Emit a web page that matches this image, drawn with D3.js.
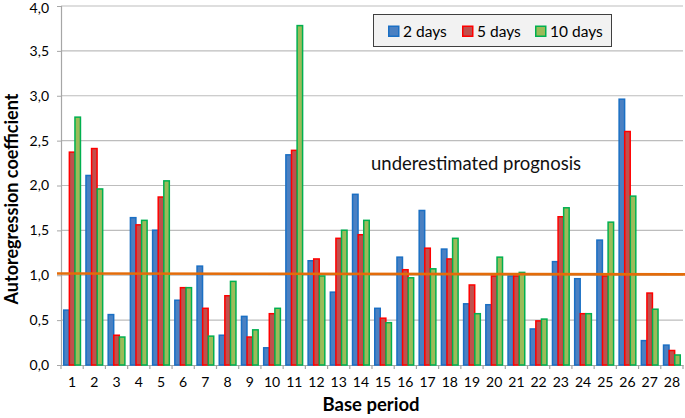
<!DOCTYPE html>
<html>
<head>
<meta charset="utf-8">
<script src="https://cdn.jsdelivr.net/npm/d3@7"></script>
<style>
html,body{margin:0;padding:0;background:#fff;}
svg{display:block;font-family:Lato,"Open Sans",sans-serif;}
</style>
</head>
<body>
<svg id="chart" width="685" height="418"></svg>
<script>
const categories = ["1","2","3","4","5","6","7","8","9","10","11","12","13","14","15","16","17","18","19","20","21","22","23","24","25","26","27","28"];
const seriesNames = ["2 days","5 days","10 days"];
const twoDays  = [0.62,2.12,0.57,1.65,1.51,0.73,1.11,0.34,0.55,0.20,2.35,1.17,0.82,1.91,0.64,1.21,1.73,1.30,0.69,0.68,1.00,0.41,1.16,0.97,1.40,2.97,0.28,0.23];
const fiveDays = [2.38,2.42,0.34,1.57,1.88,0.87,0.64,0.78,0.32,0.58,2.40,1.19,1.42,1.46,0.53,1.07,1.31,1.19,0.90,1.00,1.00,0.50,1.66,0.58,1.00,2.61,0.81,0.17];
const tenDays  = [2.77,1.97,0.32,1.62,2.06,0.87,0.33,0.94,0.40,0.64,3.79,1.00,1.51,1.62,0.48,0.98,1.08,1.42,0.58,1.21,1.04,0.52,1.76,0.58,1.60,1.89,0.63,0.12];
const yTicks = [0,0.5,1,1.5,2,2.5,3,3.5,4];
const refLine = [1.02, 1.01];
const annotation = "underestimated prognosis";
const yTitle = "Autoregression coefficient";
const xTitle = "Base period";

const strokeColors = ["#1a6fc4","#ff0000","#00b050"];
const fillColors = ["#4a80c2","#c0504d","#9bbb59"];

const svg = d3.select("#chart");
const mLeft = 61, mRight = 683, mTop = 6, mBottom = 365;

const x = d3.scaleBand().domain(categories).range([mLeft, mRight]).paddingInner(0).paddingOuter(0);
const y = d3.scaleLinear().domain([0,4]).range([mBottom, mTop]);

// gridlines
svg.append("g").selectAll("line").data(yTicks.filter(d=>d>0)).join("line")
  .attr("x1", mLeft).attr("x2", mRight)
  .attr("y1", d=>y(d)).attr("y2", d=>y(d))
  .attr("stroke", "#bdbdbd").attr("stroke-width", 1.2);

// y axis
const yAxis = d3.axisLeft(y).tickValues(yTicks).tickSize(4).tickPadding(8)
  .tickFormat(d => d3.format(".1f")(d).replace(".", ","));
const gy = svg.append("g").attr("transform", `translate(${mLeft},0)`).call(yAxis);
gy.select(".domain").attr("stroke", "#a6a6a6").attr("stroke-width", 1.2);
gy.selectAll(".tick line").attr("stroke", "#a6a6a6");
gy.selectAll(".tick text").attr("font-family", "Lato, sans-serif").attr("font-size", 14).attr("fill", "#000")
  .attr("y", d => d === 4 ? 2 : 0);

// x axis
const xAxis = d3.axisBottom(x).tickSize(0).tickPadding(12);
const gx = svg.append("g").attr("transform", `translate(0,${mBottom})`).call(xAxis);
gx.select(".domain").attr("stroke", "#a6a6a6").attr("stroke-width", 1.2);
gx.selectAll(".tick text").attr("font-family", "Lato, sans-serif").attr("font-size", 14).attr("fill", "#000");
// boundary ticks
const bounds = categories.map(c => x(c)).concat([mRight]);
gx.append("g").selectAll("line").data(bounds).join("line")
  .attr("x1", d=>d).attr("x2", d=>d).attr("y1", 0).attr("y2", 4)
  .attr("stroke", "#a6a6a6").attr("stroke-width", 1.2);

// bars
const series = [twoDays, fiveDays, tenDays];
const barW = 7, step = 5.6;
const offset0 = (x.bandwidth() - (2*step + barW)) / 2;
series.forEach((vals, si) => {
  svg.append("g").selectAll("rect").data(vals).join("rect")
    .attr("x", (d,i) => x(categories[i]) + offset0 + si*step + 0.75)
    .attr("y", d => y(d) + 0.75)
    .attr("width", barW - 1.5)
    .attr("height", d => Math.max(0, y(0) - y(d) - 0.75))
    .attr("fill", fillColors[si])
    .attr("stroke", strokeColors[si])
    .attr("stroke-width", 1.5);
});

// reference line
svg.append("line")
  .attr("x1", 57).attr("x2", 685)
  .attr("y1", y(refLine[0])).attr("y2", y(refLine[1]))
  .attr("stroke", "#e36c0a").attr("stroke-width", 2.6);

// annotation
svg.append("text").attr("x", 371).attr("y", 170)
  .attr("font-size", 18.5).attr("fill", "#111").text(annotation);

// legend
const lg = svg.append("g");
lg.append("rect").attr("x", 373.5).attr("y", 14.5).attr("width", 238).attr("height", 32)
  .attr("fill", "#f2f2f2").attr("stroke", "#404040").attr("stroke-width", 1);
const legX = [388, 462, 535];
seriesNames.forEach((n, i) => {
  lg.append("rect").attr("x", legX[i] + 0.75).attr("y", 26.25).attr("width", 10).attr("height", 10)
    .attr("fill", fillColors[i]).attr("stroke", strokeColors[i]).attr("stroke-width", 1.5);
  lg.append("text").attr("x", legX[i] + 15).attr("y", 36.5)
    .attr("font-size", 15.5).attr("fill", "#000").text(n);
});

// axis titles
svg.append("text").attr("transform", "translate(18,199) rotate(-90)")
  .attr("text-anchor", "middle").attr("font-weight", "bold").attr("font-size", 18)
  .attr("fill", "#000").text(yTitle);
svg.append("text").attr("x", 371).attr("y", 411)
  .attr("text-anchor", "middle").attr("font-weight", "bold").attr("font-size", 18.5)
  .attr("fill", "#000").text(xTitle);
</script>
</body>
</html>
